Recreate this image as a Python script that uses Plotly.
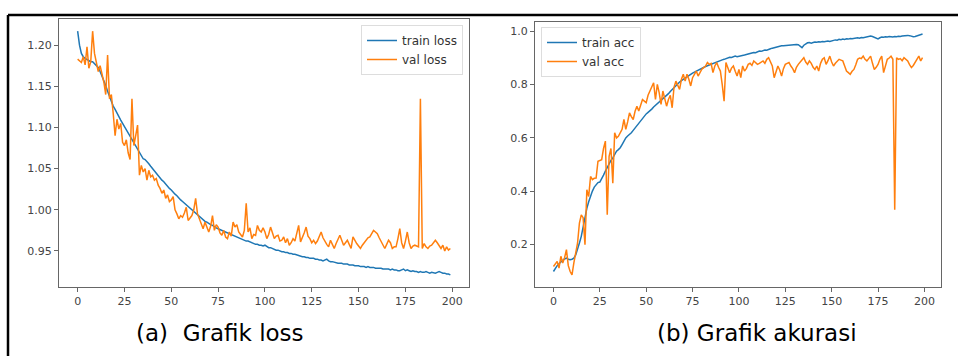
import plotly.graph_objects as go

epochs = list(range(200))

train_loss = [
1.217,1.200,1.190,1.186,1.184,1.183,1.181,1.180,1.180,1.178,
1.176,1.173,1.168,1.163,1.157,1.151,1.144,1.137,1.131,1.126,
1.122,1.117,1.113,1.109,1.105,1.101,1.097,1.093,1.089,1.085,
1.081,1.077,1.073,1.069,1.065,1.062,1.061,1.059,1.056,1.053,
1.050,1.047,1.044,1.041,1.038,1.036,1.034,1.031,1.029,1.026,
1.024,1.021,1.019,1.017,1.014,1.012,1.010,1.008,1.005,1.003,
1.001,0.999,0.997,0.995,0.993,0.991,0.989,0.988,0.986,0.985,
0.983,0.982,0.981,0.979,0.978,0.977,0.976,0.975,0.974,0.973,
0.972,0.971,0.970,0.969,0.968,0.967,0.966,0.965,0.964,0.963,
0.962,0.962,0.961,0.960,0.959,0.958,0.958,0.957,0.957,0.956,
0.957,0.955,0.954,0.954,0.953,0.952,0.951,0.951,0.950,0.949,
0.949,0.948,0.948,0.947,0.947,0.946,0.946,0.945,0.945,0.944,
0.943,0.943,0.942,0.942,0.941,0.941,0.941,0.940,0.940,0.939,
0.939,0.938,0.939,0.940,0.938,0.937,0.937,0.936,0.936,0.935,
0.935,0.935,0.934,0.934,0.934,0.933,0.933,0.933,0.932,0.932,
0.932,0.931,0.931,0.931,0.930,0.931,0.930,0.930,0.930,0.929,
0.929,0.929,0.929,0.928,0.928,0.928,0.928,0.927,0.928,0.927,
0.927,0.926,0.926,0.927,0.928,0.926,0.927,0.926,0.925,0.926,
0.925,0.925,0.924,0.925,0.924,0.924,0.925,0.924,0.923,0.924,
0.923,0.923,0.924,0.925,0.924,0.923,0.923,0.922,0.922,0.921]

val_loss = [
1.183,1.181,1.179,1.186,1.176,1.198,1.172,1.180,1.217,1.190,
1.180,1.168,1.175,1.165,1.155,1.140,1.188,1.135,1.140,1.117,
1.090,1.110,1.098,1.105,1.082,1.078,1.085,1.069,1.061,1.135,
1.078,1.090,1.103,1.042,1.054,1.046,1.050,1.036,1.048,1.040,
1.042,1.036,1.038,1.030,1.026,1.020,1.024,1.014,1.018,1.010,
1.012,1.016,1.000,0.995,0.989,0.993,0.991,0.996,1.003,0.987,
0.990,0.993,1.000,1.014,0.995,0.989,0.982,0.977,0.985,0.980,
0.973,0.980,0.993,0.975,0.982,0.979,0.972,0.969,0.975,0.967,
0.965,0.973,0.968,0.985,0.979,0.982,0.973,0.970,0.967,0.975,
1.008,0.973,0.978,0.965,0.970,0.969,0.981,0.975,0.973,0.978,
0.973,0.965,0.970,0.979,0.972,0.965,0.968,0.969,0.962,0.963,
0.967,0.960,0.965,0.957,0.960,0.965,0.962,0.970,0.981,0.961,
0.966,0.972,0.979,0.968,0.965,0.960,0.963,0.959,0.962,0.967,
0.973,0.966,0.961,0.958,0.955,0.963,0.958,0.953,0.959,0.964,
0.969,0.963,0.957,0.960,0.963,0.958,0.953,0.967,0.962,0.959,
0.956,0.953,0.957,0.960,0.963,0.966,0.967,0.972,0.975,0.973,
0.971,0.966,0.961,0.957,0.953,0.958,0.963,0.960,0.953,0.955,
0.955,0.965,0.977,0.960,0.953,0.962,0.973,0.960,0.953,0.956,
0.957,0.956,0.955,1.135,0.953,0.959,0.955,0.953,0.956,0.957,
0.960,0.963,0.960,0.956,0.953,0.957,0.950,0.955,0.951,0.953]

train_acc = [
0.098,0.110,0.120,0.127,0.135,0.140,0.145,0.148,0.144,0.142,
0.144,0.148,0.160,0.180,0.205,0.230,0.270,0.305,0.335,0.360,
0.385,0.400,0.415,0.425,0.432,0.434,0.445,0.460,0.475,0.490,
0.505,0.515,0.525,0.538,0.550,0.556,0.563,0.575,0.590,0.600,
0.607,0.612,0.619,0.628,0.637,0.646,0.656,0.666,0.676,0.683,
0.690,0.696,0.701,0.708,0.716,0.722,0.728,0.735,0.741,0.748,
0.753,0.760,0.766,0.774,0.782,0.790,0.798,0.804,0.810,0.815,
0.820,0.825,0.830,0.836,0.840,0.843,0.847,0.851,0.855,0.858,
0.862,0.865,0.868,0.871,0.874,0.877,0.880,0.883,0.886,0.888,
0.890,0.893,0.895,0.897,0.900,0.903,0.902,0.905,0.907,0.905,
0.906,0.908,0.910,0.911,0.913,0.914,0.917,0.919,0.921,0.920,
0.924,0.926,0.925,0.928,0.930,0.929,0.933,0.935,0.937,0.939,
0.941,0.944,0.945,0.946,0.946,0.947,0.948,0.947,0.948,0.949,
0.950,0.951,0.950,0.945,0.939,0.948,0.954,0.957,0.958,0.956,
0.958,0.960,0.959,0.961,0.960,0.962,0.961,0.963,0.964,0.962,
0.965,0.966,0.968,0.967,0.970,0.969,0.971,0.970,0.972,0.971,
0.973,0.972,0.974,0.975,0.976,0.974,0.977,0.976,0.978,0.980,
0.982,0.983,0.981,0.978,0.975,0.972,0.976,0.979,0.978,0.980,
0.979,0.981,0.980,0.979,0.981,0.980,0.982,0.981,0.983,0.984,
0.983,0.985,0.984,0.982,0.980,0.981,0.983,0.986,0.989,0.990]

val_acc = [
0.117,0.125,0.136,0.111,0.155,0.130,0.150,0.180,0.120,0.098,
0.085,0.130,0.167,0.205,0.280,0.311,0.300,0.199,0.405,0.380,
0.455,0.443,0.448,0.449,0.512,0.515,0.518,0.560,0.588,0.311,
0.531,0.560,0.430,0.619,0.600,0.606,0.620,0.632,0.669,0.632,
0.660,0.694,0.680,0.669,0.700,0.719,0.701,0.725,0.744,0.738,
0.732,0.760,0.776,0.790,0.807,0.744,0.801,0.770,0.726,0.776,
0.750,0.719,0.744,0.760,0.713,0.790,0.813,0.800,0.782,0.820,
0.839,0.813,0.839,0.820,0.795,0.826,0.840,0.851,0.832,0.845,
0.858,0.864,0.870,0.883,0.876,0.880,0.845,0.870,0.883,0.865,
0.851,0.800,0.738,0.883,0.860,0.845,0.862,0.870,0.850,0.832,
0.857,0.826,0.870,0.851,0.860,0.876,0.880,0.872,0.889,0.882,
0.876,0.880,0.885,0.889,0.880,0.895,0.901,0.885,0.870,0.826,
0.850,0.870,0.855,0.832,0.860,0.876,0.880,0.883,0.870,0.860,
0.845,0.865,0.876,0.885,0.895,0.901,0.885,0.876,0.889,0.880,
0.865,0.857,0.870,0.851,0.880,0.895,0.901,0.876,0.890,0.907,
0.885,0.870,0.880,0.890,0.895,0.892,0.889,0.870,0.851,0.845,
0.839,0.850,0.857,0.875,0.895,0.900,0.898,0.907,0.895,0.889,
0.900,0.907,0.880,0.857,0.865,0.876,0.895,0.907,0.845,0.870,
0.895,0.900,0.907,0.895,0.330,0.901,0.895,0.898,0.890,0.901,
0.895,0.889,0.875,0.864,0.872,0.883,0.895,0.907,0.889,0.901]

x_ticks = [0, 25, 50, 75, 100, 125, 150, 175, 200]
loss_ticks = [0.95, 1.00, 1.05, 1.10, 1.15, 1.20]
acc_ticks = [0.2, 0.4, 0.6, 0.8, 1.0]
captions = ["(a)\u00a0 Grafik loss", "(b) Grafik akurasi"]

BLUE = "#1f77b4"
ORANGE = "#ff7f0e"
W, H = 958, 356

fig = go.Figure()
fig.add_trace(go.Scatter(x=epochs, y=train_loss, mode="lines", name="train loss",
                         line=dict(color=BLUE, width=1.5), xaxis="x", yaxis="y", legend="legend"))
fig.add_trace(go.Scatter(x=epochs, y=val_loss, mode="lines", name="val loss",
                         line=dict(color=ORANGE, width=1.5), xaxis="x", yaxis="y", legend="legend"))
fig.add_trace(go.Scatter(x=epochs, y=train_acc, mode="lines", name="train acc",
                         line=dict(color=BLUE, width=1.5), xaxis="x2", yaxis="y2", legend="legend2"))
fig.add_trace(go.Scatter(x=epochs, y=val_acc, mode="lines", name="val acc",
                         line=dict(color=ORANGE, width=1.5), xaxis="x2", yaxis="y2", legend="legend2"))

def pad_range(vals, frac=0.05):
    lo, hi = min(vals), max(vals)
    d = (hi - lo) * frac
    return [lo - d, hi + d]

tickfont = dict(family="DejaVu Sans", size=11, color="#444")
axis_common = dict(showgrid=False, zeroline=False, showline=True, mirror=True,
                   linecolor="#666", linewidth=1, ticks="outside", ticklen=4,
                   tickcolor="#666", tickfont=tickfont, automargin=False)

xr = pad_range(epochs)
fig.update_layout(
    width=W, height=H,
    margin=dict(l=0, r=0, t=0, b=0, autoexpand=False),
    paper_bgcolor="white", plot_bgcolor="white",
    xaxis=dict(domain=[59/W, 469/W], range=xr, tickvals=x_ticks, anchor="y", **axis_common),
    yaxis=dict(domain=[(H-287)/H, (H-19)/H], range=pad_range(train_loss + val_loss),
               tickvals=loss_ticks, tickformat=".2f", anchor="x", **axis_common),
    xaxis2=dict(domain=[535/W, 941/W], range=xr, tickvals=x_ticks, anchor="y2", **axis_common),
    yaxis2=dict(domain=[(H-287)/H, (H-22)/H], range=pad_range(train_acc + val_acc),
                tickvals=acc_ticks, tickformat=".1f", anchor="x2", **axis_common),
    legend=dict(x=463/W, y=1-25/H, xanchor="right", yanchor="top",
                bgcolor="white", bordercolor="#ddd", borderwidth=1,
                font=dict(family="DejaVu Sans", size=12, color="#333"),
                tracegroupgap=0, itemwidth=30),
    legend2=dict(x=541/W, y=1-27/H, xanchor="left", yanchor="top",
                 bgcolor="white", bordercolor="#ddd", borderwidth=1,
                 font=dict(family="DejaVu Sans", size=12, color="#333"),
                 tracegroupgap=0, itemwidth=30),
    showlegend=True,
)

fig.add_annotation(x=220/W, y=1-333/H, xref="paper", yref="paper", text=captions[0],
                   showarrow=False, xanchor="center", yanchor="middle",
                   font=dict(family="DejaVu Sans", size=23, color="black"))
fig.add_annotation(x=757/W, y=1-333/H, xref="paper", yref="paper", text=captions[1],
                   showarrow=False, xanchor="center", yanchor="middle",
                   font=dict(family="DejaVu Sans", size=23, color="black"))

# frame lines of the figure panel (top and left)
fig.add_shape(type="line", xref="paper", yref="paper", x0=8/W, x1=1, y0=1-15/H, y1=1-15/H,
              line=dict(color="black", width=2.5))
fig.add_shape(type="line", xref="paper", yref="paper", x0=8/W, x1=8/W, y0=0, y1=1-15/H,
              line=dict(color="black", width=2.5))

fig.write_html("out.html", config={"displayModeBar": False},
               post_script="document.body.style.margin='0';document.body.style.overflow='hidden';")
